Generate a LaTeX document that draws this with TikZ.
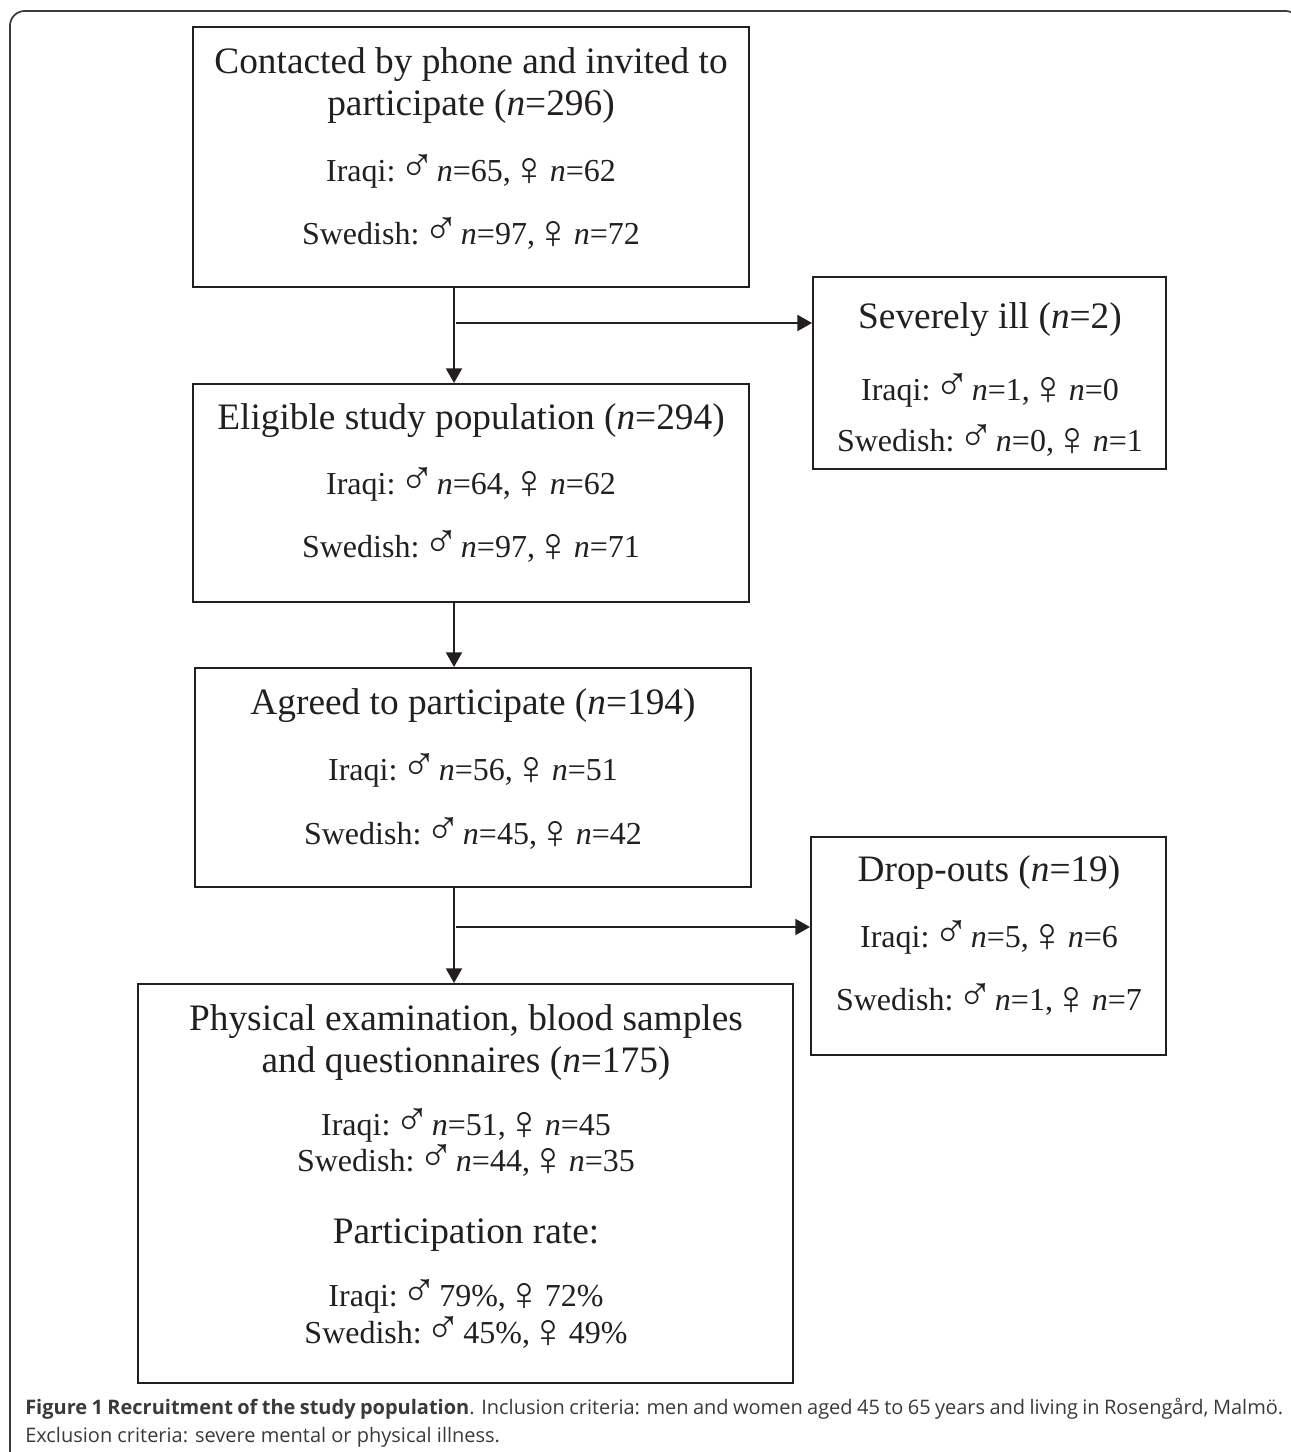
\documentclass[tikz,border=0pt]{standalone}
\usepackage{fontspec}
\usepackage{graphicx}
\setmainfont{Liberation Serif}
\newfontfamily\capfont{Open Sans}
\usetikzlibrary{arrows.meta}
\definecolor{ink}{HTML}{231F20}
\definecolor{rim}{HTML}{3C3C3C}
\definecolor{captext}{HTML}{3A3A3A}
\newcommand{\msign}{\kern-0.22em\smash{\scalebox{1.5}{♂}}\kern0.06em}
\newcommand{\fsign}{\kern-0.22em\smash{\raisebox{-0.14em}{\scalebox{1.5}{♀}}}\kern0.06em}
\tikzset{
  stage/.style={draw=ink, line width=1.5pt, inner sep=0pt},
  head/.style={anchor=base, inner sep=0pt, text=ink, font=\fontsize{28}{32}\selectfont},
  count/.style={anchor=base, inner sep=0pt, text=ink, font=\fontsize{24}{28}\selectfont},
  flow/.style={draw=ink, line width=1.5pt, -{Triangle[length=11pt,width=12pt]}},
}
\begin{document}
\begin{tikzpicture}[x=0.75pt, y=-0.75pt]
  \def\mf#1#2{\msign\textit{n}=#1, \fsign\textit{n}=#2}
  \useasboundingbox (0,0) rectangle (1290,1452);
  % outer frame
  \draw[rim, line width=1.3pt, rounded corners=11pt] (10,1480) -- (10,11) -- (1300,11) -- (1300,1480);
  % boxes
  \node[stage, minimum width=417pt, minimum height=195pt] (contact) at (471,157) {};
  \node[stage, minimum width=417pt, minimum height=163.5pt] (eligible) at (471,493) {};
  \node[stage, minimum width=417pt, minimum height=164.25pt] (agreed) at (473,777.5) {};
  \node[stage, minimum width=491.25pt, minimum height=299.25pt] (exam) at (465.5,1183.5) {};
  \node[stage, minimum width=264.75pt, minimum height=144pt] (ill) at (989.5,373) {};
  \node[stage, minimum width=266.25pt, minimum height=163.5pt] (drop) at (988.5,946) {};
  % texts
  \node[head] (contact-a) at (471,74) {Contacted by phone and invited to};
  \node[head] (contact-b) at (471,116) {participate (\textit{n}=296)};
  \node[count] (contact-c) at (471,181) {Iraqi: \mf{65}{62}};
  \node[count] (contact-d) at (471,244) {Swedish: \mf{97}{72}};
  \node[head] (eligible-a) at (471,429) {Eligible study population (\textit{n}=294)};
  \node[count] (eligible-b) at (471,494) {Iraqi: \mf{64}{62}};
  \node[count] (eligible-c) at (471,557) {Swedish: \mf{97}{71}};
  \node[head] (agreed-a) at (473,714) {Agreed to participate (\textit{n}=194)};
  \node[count] (agreed-b) at (473,780) {Iraqi: \mf{56}{51}};
  \node[count] (agreed-c) at (473,844) {Swedish: \mf{45}{42}};
  \node[head] (ill-a) at (990,328) {Severely ill (\textit{n}=2)};
  \node[count] (ill-b) at (990,400) {Iraqi: \mf{1}{0}};
  \node[count] (ill-c) at (990,451) {Swedish: \mf{0}{1}};
  \node[head] (drop-a) at (989,881) {Drop-outs (\textit{n}=19)};
  \node[count] (drop-b) at (989,947) {Iraqi: \mf{5}{6}};
  \node[count] (drop-c) at (989,1010) {Swedish: \mf{1}{7}};
  \node[head] (exam-a) at (466,1030) {Physical examination, blood samples};
  \node[head] (exam-b) at (466,1072) {and questionnaires (\textit{n}=175)};
  \node[count] (exam-c) at (466,1135) {Iraqi: \mf{51}{45}};
  \node[count] (exam-d) at (466,1171) {Swedish: \mf{44}{35}};
  \node[head] (exam-e) at (466,1243) {Participation rate:};
  \node[count] (exam-f) at (466,1306) {Iraqi: \msign79\%, \fsign72\%};
  \node[count] (exam-g) at (466,1343) {Swedish: \msign45\%, \fsign49\%};
  % arrows
  \coordinate (spine) at (454,0);
  \coordinate (fork1) at (456,323);
  \coordinate (fork2) at (456,927);
  \draw[flow] (contact.south -| spine) -- (eligible.north -| spine);
  \draw[flow] (fork1) -- (fork1 -| ill.west);
  \draw[flow] (eligible.south -| spine) -- (agreed.north -| spine);
  \draw[flow] (agreed.south -| spine) -- (exam.north -| spine);
  \draw[flow] (fork2) -- (fork2 -| drop.west);
  % caption
  \node[anchor=base west, inner sep=0pt, text=captext, font=\capfont\fontsize{15}{18}\selectfont] (cap1) at (25,1414)
    {\makebox[943.5pt][s]{\textbf{Figure 1 Recruitment of the study population}. Inclusion criteria: men and women aged 45 to 65 years and living in Rosengård, Malmö.}};
  \node[anchor=base west, inner sep=0pt, text=captext, font=\capfont\fontsize{15}{18}\selectfont] (cap2) at (25,1442)
    {Exclusion criteria: severe mental or physical illness.};
\end{tikzpicture}
\end{document}
